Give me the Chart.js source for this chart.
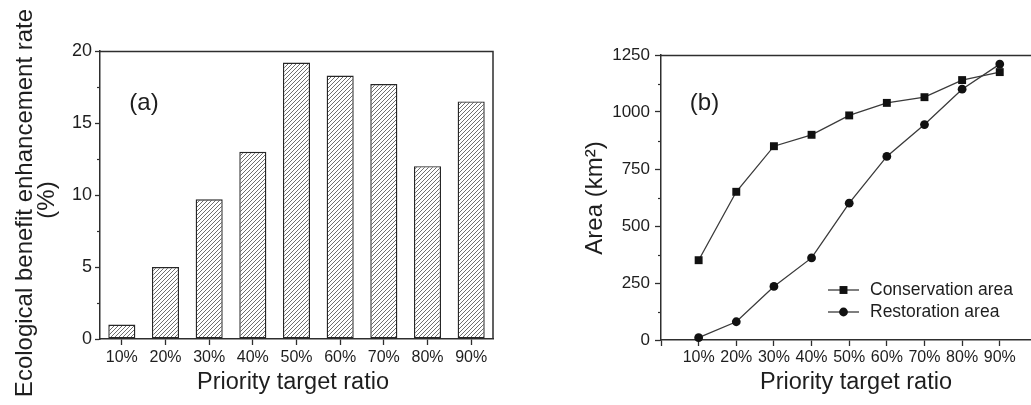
<!DOCTYPE html>
<html>
<head>
<meta charset="utf-8">
<title>Priority target ratio</title>
<script src="https://cdn.jsdelivr.net/npm/chart.js@4.4.1/dist/chart.umd.min.js"></script>
<style>
  html, body { margin: 0; padding: 0; background: #ffffff; overflow: hidden; width: 1031px; height: 405px; }
  #wrapA { position: absolute; left: 0; top: 0; width: 500px; height: 405px; }
  #wrapB { position: absolute; left: 540px; top: 0; width: 520px; height: 405px; }
  canvas { display: block; }
</style>
</head>
<body>
<div id="wrapA"><canvas id="chartA" width="500" height="405"></canvas></div>
<div id="wrapB"><canvas id="chartB" width="520" height="405"></canvas></div>
<script>
// ---- data ----
const categories = ['10%', '20%', '30%', '40%', '50%', '60%', '70%', '80%', '90%'];
const enhancementRate = [1.0, 5.0, 9.7, 13.0, 19.2, 18.3, 17.7, 12.0, 16.5];
const conservationArea = [350, 650, 850, 900, 985, 1040, 1065, 1140, 1175];
const restorationArea = [10, 80, 235, 360, 600, 805, 945, 1100, 1210];
const rateTicks = [0, 5, 10, 15, 20];
const rateMinorTicks = [2.5, 7.5, 12.5, 17.5];
const areaTicks = [0, 250, 500, 750, 1000, 1250];
const areaMinorTicks = [125, 375, 625, 875, 1125];

// ---- styling ----
const FONT = "'Liberation Sans', Arial, Helvetica, sans-serif";
const INK = '#2e2e2e';
const TEXT = '#1e1e1e';

// diagonal hatch used to fill the bars
function makeHatch() {
  const size = 4;
  const c = document.createElement('canvas');
  c.width = size; c.height = size;
  const g = c.getContext('2d');
  g.fillStyle = '#ffffff';
  g.fillRect(0, 0, size, size);
  g.strokeStyle = '#555555';
  g.lineWidth = 0.85;
  g.beginPath();
  g.moveTo(0, size); g.lineTo(size, 0);
  g.moveTo(-1, 1); g.lineTo(1, -1);
  g.moveTo(size - 1, size + 1); g.lineTo(size + 1, size - 1);
  g.stroke();
  return g.createPattern(c, 'repeat');
}

// frame, minor ticks, axis titles, panel letters and the line legend
const decor = {
  id: 'decor',
  afterDraw(chart, args, opts) {
    const ctx = chart.ctx;
    const { left, right, top, bottom } = chart.chartArea;
    ctx.save();
    ctx.strokeStyle = INK;
    ctx.lineWidth = 1.5;
    ctx.beginPath();
    ctx.moveTo(left, top + 0.5);
    ctx.lineTo(right, top + 0.5);
    ctx.lineTo(right, bottom);
    ctx.stroke();

    const ys = chart.scales.y;
    ctx.lineWidth = 1.2;
    (opts.minorTicks || []).forEach(v => {
      const py = Math.round(ys.getPixelForValue(v)) + 0.5;
      ctx.beginPath();
      ctx.moveTo(left - opts.minorLength, py);
      ctx.lineTo(left, py);
      ctx.stroke();
    });

    ctx.fillStyle = TEXT;
    (opts.texts || []).forEach(t => {
      ctx.save();
      ctx.translate(t.x, t.y);
      if (t.rotate) ctx.rotate(t.rotate);
      ctx.font = t.font;
      ctx.textAlign = t.align || 'center';
      ctx.textBaseline = 'middle';
      ctx.fillText(t.text, 0, 0);
      ctx.restore();
    });

    if (opts.legend) {
      const L = opts.legend;
      chart.data.datasets.forEach((ds, i) => {
        const y = L.ys[i];
        ctx.strokeStyle = ds.borderColor;
        ctx.lineWidth = ds.borderWidth;
        ctx.beginPath();
        ctx.moveTo(L.x1, y); ctx.lineTo(L.x2, y);
        ctx.stroke();
        const cx = (L.x1 + L.x2) / 2;
        ctx.fillStyle = ds.pointBackgroundColor;
        ctx.beginPath();
        if (ds.pointStyle === 'rect') {
          const h = Math.SQRT1_2 * ds.pointRadius;
          ctx.rect(cx - h, y - h, 2 * h, 2 * h);
        } else {
          ctx.arc(cx, y, ds.pointRadius, 0, Math.PI * 2);
        }
        ctx.fill();
        ctx.fillStyle = TEXT;
        ctx.font = L.font;
        ctx.textAlign = 'left';
        ctx.textBaseline = 'middle';
        ctx.fillText(ds.label, L.xText, y);
      });
    }
    ctx.restore();
  }
};

const axisCommon = (tickLength) => ({
  grid: { drawOnChartArea: false, tickLength: tickLength, tickColor: INK, tickWidth: 1.3 },
  border: { display: true, color: INK, width: 1.5 }
});

// ---- (a) bar chart ----
new Chart(document.getElementById('chartA'), {
  type: 'bar',
  data: {
    labels: categories,
    datasets: [{
      label: 'Ecological benefit enhancement rate',
      data: enhancementRate,
      backgroundColor: makeHatch(),
      borderColor: '#262626',
      borderWidth: 1.4,
      borderSkipped: false,
      categoryPercentage: 1.0,
      barPercentage: 0.62
    }]
  },
  options: {
    responsive: false,
    animation: false,
    events: [],
    layout: { padding: { top: 51, right: 7, left: 0, bottom: 0 } },
    plugins: {
      legend: { display: false },
      tooltip: { enabled: false },
      decor: {
        minorTicks: rateMinorTicks,
        minorLength: 3,
        texts: [
          { text: 'Ecological benefit enhancement rate', x: 25, y: 203, rotate: -Math.PI / 2, font: '24px ' + FONT },
          { text: '(%)', x: 47.5, y: 200, rotate: -Math.PI / 2, font: '24px ' + FONT },
          { text: 'Priority target ratio', x: 293, y: 383, font: '23.5px ' + FONT },
          { text: '(a)', x: 144, y: 103, font: '24px ' + FONT }
        ]
      }
    },
    scales: {
      x: Object.assign(axisCommon(6), {
        offset: true,
        grid: { offset: false, drawOnChartArea: false, tickLength: 6, tickColor: INK, tickWidth: 1.3 },
        ticks: { font: { family: FONT, size: 16 }, color: TEXT, padding: 3, autoSkip: false, maxRotation: 0 },
        afterFit: s => { s.height = 66; }
      }),
      y: Object.assign(axisCommon(5), {
        min: 0,
        max: 20,
        afterBuildTicks: s => { s.ticks = rateTicks.map(v => ({ value: v })); },
        ticks: { font: { family: FONT, size: 18 }, color: TEXT, padding: 3, callback: v => String(v) },
        afterFit: s => { s.width = 100; }
      })
    }
  },
  plugins: [decor]
});

// ---- (b) line chart ----
new Chart(document.getElementById('chartB'), {
  type: 'line',
  data: {
    datasets: [
      {
        label: 'Conservation area',
        data: conservationArea.map((v, i) => ({ x: i + 1, y: v })),
        borderColor: '#3a3a3a',
        borderWidth: 1.3,
        pointStyle: 'rect',
        pointRadius: 5.6,
        pointBackgroundColor: '#111111',
        pointBorderColor: '#111111',
        pointBorderWidth: 0,
        tension: 0,
        clip: false
      },
      {
        label: 'Restoration area',
        data: restorationArea.map((v, i) => ({ x: i + 1, y: v })),
        borderColor: '#3a3a3a',
        borderWidth: 1.3,
        pointStyle: 'circle',
        pointRadius: 4.4,
        pointBackgroundColor: '#111111',
        pointBorderColor: '#111111',
        pointBorderWidth: 0,
        tension: 0,
        clip: false
      }
    ]
  },
  options: {
    responsive: false,
    animation: false,
    events: [],
    layout: { padding: { top: 55, right: 22.6, left: 0, bottom: 0 } },
    plugins: {
      legend: { display: false },
      tooltip: { enabled: false },
      decor: {
        minorTicks: areaMinorTicks,
        minorLength: 3,
        texts: [
          { text: 'Area (km\u00B2)', x: 55, y: 198, rotate: -Math.PI / 2, font: '24px ' + FONT },
          { text: 'Priority target ratio', x: 316, y: 383, font: '23.5px ' + FONT },
          { text: '(b)', x: 164.5, y: 103, font: '24px ' + FONT }
        ],
        legend: { x1: 288, x2: 319, xText: 330, ys: [290, 312], font: '17.5px ' + FONT }
      }
    },
    scales: {
      x: Object.assign(axisCommon(6), {
        type: 'linear',
        min: 0,
        max: 10,
        afterBuildTicks: s => { s.ticks = [{ value: 0 }].concat(categories.map((_, i) => ({ value: i + 1 }))); },
        ticks: {
          font: { family: FONT, size: 16 }, color: TEXT, padding: 2, autoSkip: false, maxRotation: 0,
          callback: v => categories[v - 1] || ''
        },
        afterFit: s => { s.height = 65; }
      }),
      y: Object.assign(axisCommon(6), {
        min: 0,
        max: 1250,
        afterBuildTicks: s => { s.ticks = areaTicks.map(v => ({ value: v })); },
        ticks: { font: { family: FONT, size: 17 }, color: TEXT, padding: 5, callback: v => String(v) },
        afterFit: s => { s.width = 121; }
      })
    }
  },
  plugins: [decor]
});
</script>
</body>
</html>
